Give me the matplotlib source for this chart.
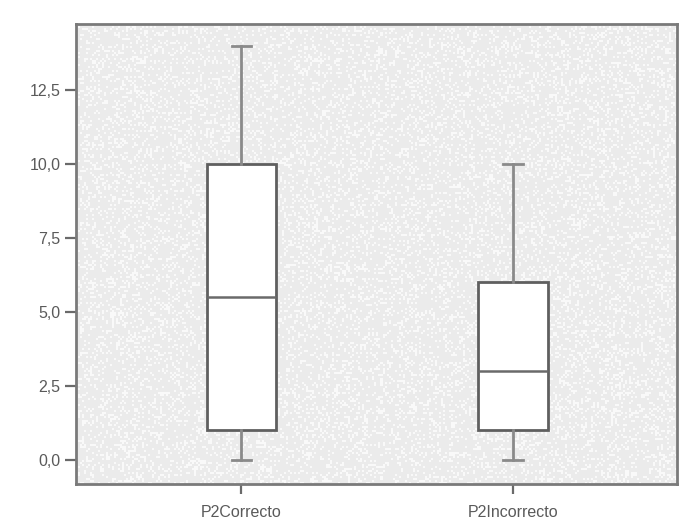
import numpy as np
import matplotlib
matplotlib.use("Agg")
import matplotlib.pyplot as plt
from matplotlib.ticker import FuncFormatter

# Five-number summaries for each group
categories = ["P2Correcto", "P2Incorrecto"]
whisker_low = [0.0, 0.0]
q1 = [1.0, 1.0]
medians = [5.5, 3.0]
q3 = [10.0, 6.0]
whisker_high = [14.0, 10.0]
y_ticks = [0.0, 2.5, 5.0, 7.5, 10.0, 12.5]

plt.rcParams["font.family"] = ["Liberation Sans", "DejaVu Sans"]

fig = plt.figure(figsize=(6.8, 5.27), dpi=100)
ax = fig.add_axes([76 / 680, 1 - 484 / 527, 601 / 680, 460 / 527])

# stippled panel fill
ax.set_facecolor("#ebebeb")
rng = np.random.default_rng(7)
tex = np.ones((230, 300, 4))
tex[..., :3] = 1.0
tex[..., 3] = (rng.random((230, 300)) < 0.22) * 0.75
ax.imshow(tex, extent=[0.393, 2.603, -0.81, 14.73], aspect="auto",
          interpolation="nearest", zorder=0)

stats = []
for i, name in enumerate(categories):
    stats.append(dict(label=name, whislo=whisker_low[i], q1=q1[i],
                      med=medians[i], q3=q3[i], whishi=whisker_high[i],
                      fliers=[]))

edge = "#5f5f5f"
ax.bxp(stats, positions=[1, 2], widths=0.254, patch_artist=True,
       showfliers=False,
       boxprops=dict(facecolor="white", edgecolor=edge, linewidth=2.0),
       medianprops=dict(color="#6a6a6a", linewidth=1.8),
       whiskerprops=dict(color="#8a8a8a", linewidth=2.0),
       capprops=dict(color="#8a8a8a", linewidth=2.0),
       capwidths=0.07, zorder=3)

ax.set_xlim(0.393, 2.603)
ax.set_ylim(-0.81, 14.73)
ax.set_yticks(y_ticks)
ax.yaxis.set_major_formatter(FuncFormatter(lambda v, p: f"{v:.1f}".replace(".", ",")))
ax.set_xticks([1, 2])
ax.set_xticklabels(categories)

for s in ax.spines.values():
    s.set_color("#7a7a7a")
    s.set_linewidth(2.0)

ax.tick_params(axis="both", direction="out", color="#6a6a6a", width=1.6,
               labelcolor="#5a5a5a", labelsize=11.5)
ax.tick_params(axis="y", length=8, pad=3)
ax.tick_params(axis="x", length=7, pad=8)

fig.savefig("out.png", dpi=100, facecolor="white")
